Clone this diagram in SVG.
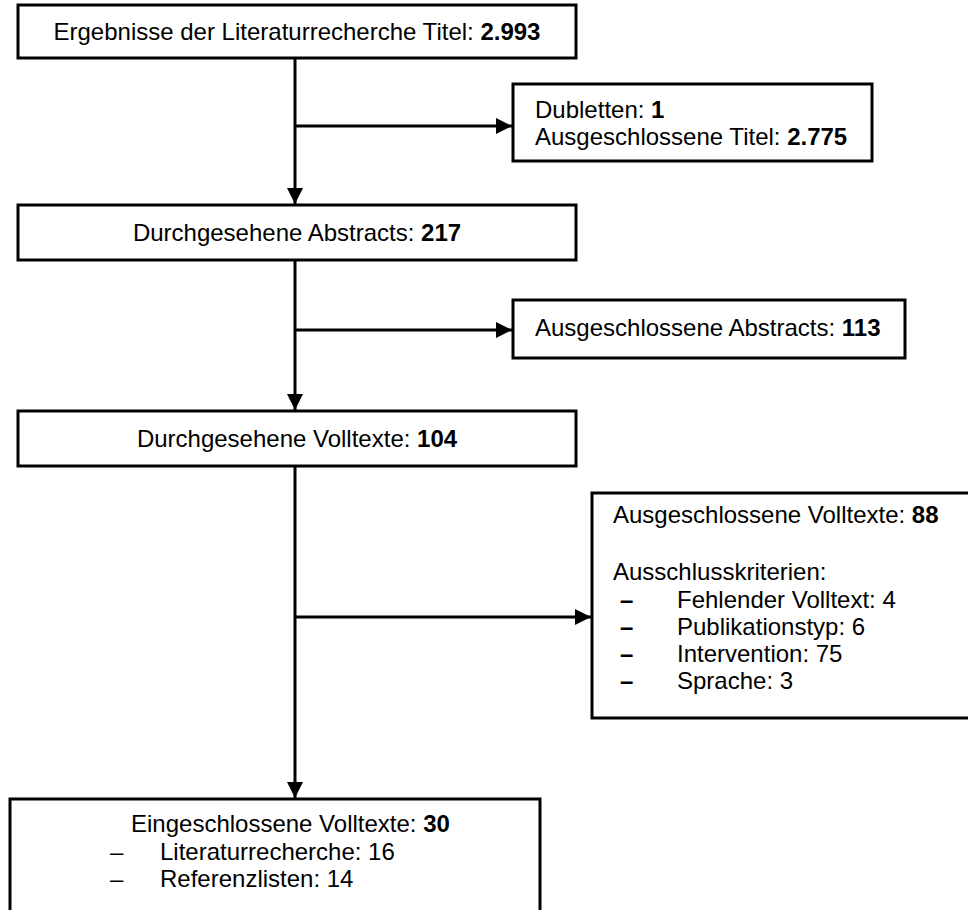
<svg xmlns="http://www.w3.org/2000/svg" width="968" height="910" viewBox="0 0 968 910">
<style>
.box{fill:#fff;stroke:#000;stroke-width:3}
.t{font-family:"Liberation Sans",Arial,sans-serif;font-size:24px;fill:#000}
.c{text-anchor:middle}
.b{font-weight:bold}
.ln{stroke:#000;stroke-width:3;fill:none}
</style>
<defs>
<marker id="ah" markerUnits="userSpaceOnUse" markerWidth="16" markerHeight="16" viewBox="0 0 16 16" refX="16" refY="8" orient="auto">
<path d="M0,0 L16,8 L0,16 Z" fill="#000"/>
</marker>
</defs>
<rect width="968" height="910" fill="#fff"/>
<g id="connectors">
<line class="ln" x1="295" y1="58" x2="295" y2="204" marker-end="url(#ah)"/>
<line class="ln" x1="295" y1="126" x2="512" y2="126" marker-end="url(#ah)"/>
<line class="ln" x1="295" y1="260" x2="295" y2="410" marker-end="url(#ah)"/>
<line class="ln" x1="295" y1="330" x2="512" y2="330" marker-end="url(#ah)"/>
<line class="ln" x1="295" y1="466" x2="295" y2="798" marker-end="url(#ah)"/>
<line class="ln" x1="295" y1="617" x2="591" y2="617" marker-end="url(#ah)"/>
</g>
<g id="n1">
<rect class="box" x="18" y="5" width="558" height="53"/>
<text class="t c" x="297" y="40">Ergebnisse der Literaturrecherche Titel: <tspan class="b">2.993</tspan></text>
</g>
<g id="n2">
<rect class="box" x="513" y="84" width="359" height="77"/>
<text class="t" x="535" y="118">Dubletten: <tspan class="b">1</tspan></text>
<text class="t" x="535" y="145">Ausgeschlossene Titel: <tspan class="b">2.775</tspan></text>
</g>
<g id="n3">
<rect class="box" x="18" y="205" width="558" height="55"/>
<text class="t c" x="297" y="241">Durchgesehene Abstracts: <tspan class="b">217</tspan></text>
</g>
<g id="n4">
<rect class="box" x="513" y="300" width="392" height="58"/>
<text class="t" x="535" y="336">Ausgeschlossene Abstracts: <tspan class="b">113</tspan></text>
</g>
<g id="n5">
<rect class="box" x="18" y="411" width="558" height="55"/>
<text class="t c" x="297" y="447">Durchgesehene Volltexte: <tspan class="b">104</tspan></text>
</g>
<g id="n6">
<rect class="box" x="592" y="493" width="400" height="225"/>
<text class="t" x="613" y="523">Ausgeschlossene Volltexte: <tspan class="b">88</tspan></text>
<text class="t" x="613" y="580">Ausschlusskriterien:</text>
<text class="t b" x="620" y="608">–</text>
<text class="t" x="677" y="608">Fehlender Volltext: 4</text>
<text class="t b" x="620" y="635">–</text>
<text class="t" x="677" y="635">Publikationstyp: 6</text>
<text class="t b" x="620" y="662">–</text>
<text class="t" x="677" y="662">Intervention: 75</text>
<text class="t b" x="620" y="689">–</text>
<text class="t" x="677" y="689">Sprache: 3</text>
</g>
<g id="n7">
<rect class="box" x="10" y="799" width="530" height="140"/>
<text class="t" x="131" y="832">Eingeschlossene Volltexte: <tspan class="b">30</tspan></text>
<text class="t" x="110" y="860">–</text>
<text class="t" x="160" y="860">Literaturrecherche: 16</text>
<text class="t" x="110" y="887">–</text>
<text class="t" x="160" y="887">Referenzlisten: 14</text>
</g>
</svg>
